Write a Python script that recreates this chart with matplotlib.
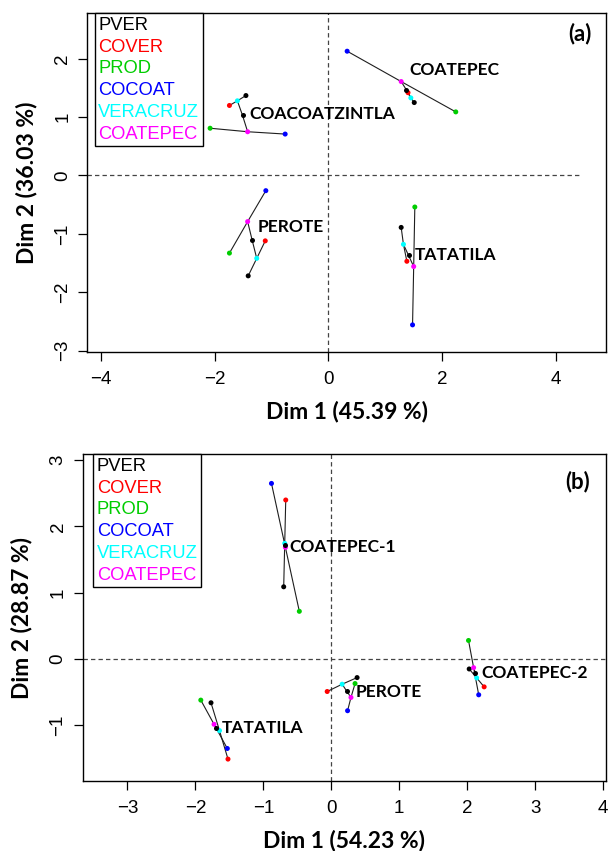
import numpy as np
import matplotlib
matplotlib.use("Agg")
import matplotlib.pyplot as plt
from matplotlib.lines import Line2D

# Grupos (puntos parciales) y sus colores
groups = ["PVER", "COVER", "PROD", "COCOAT", "VERACRUZ", "COATEPEC"]
group_colors = ["#000000", "#FF0000", "#00CD00", "#0000FF", "#00FFFF", "#FF00FF"]
# jerarquia: PVER, COVER -> VERACRUZ ; PROD, COCOAT -> COATEPEC ; VERACRUZ, COATEPEC -> centroide
parent = [4, 4, 5, 5, -1, -1]

# Panel (a)
a_sites = ["COACOATZINTLA", "COATEPEC", "PEROTE", "TATATILA"]
a_mean_x = [-1.51, 1.37, -1.34, 1.41]
a_mean_y = [1.03, 1.47, -1.11, -1.37]
a_part_x = [
    [-1.45, -1.74, -2.08, -0.76, -1.60, -1.42],
    [1.51, 1.40, 2.24, 0.33, 1.45, 1.28],
    [-1.41, -1.11, -1.74, -1.10, -1.26, -1.42],
    [1.28, 1.38, 1.52, 1.48, 1.32, 1.50],
]
a_part_y = [
    [1.37, 1.20, 0.81, 0.71, 1.28, 0.75],
    [1.25, 1.42, 1.09, 2.13, 1.33, 1.61],
    [-1.72, -1.12, -1.33, -0.26, -1.42, -0.79],
    [-0.89, -1.47, -0.54, -2.56, -1.18, -1.56],
]
a_lab_x = [-1.39, 1.42, -1.25, 1.52]
a_lab_y = [1.05, 1.81, -0.88, -1.36]
a_xticks = [-4, -2, 0, 2, 4]
a_yticks = [-3, -2, -1, 0, 1, 2]

# Panel (b)
b_sites = ["COATEPEC-1", "COATEPEC-2", "PEROTE", "TATATILA"]
b_mean_x = [-0.68, 2.12, 0.225, -1.69]
b_mean_y = [1.715, -0.21, -0.48, -1.035]
b_part_x = [
    [-0.70, -0.67, -0.47, -0.88, -0.685, -0.675],
    [2.03, 2.25, 2.02, 2.17, 2.14, 2.095],
    [0.38, -0.06, 0.35, 0.24, 0.16, 0.29],
    [-1.77, -1.52, -1.92, -1.53, -1.645, -1.725],
]
b_part_y = [
    [1.09, 2.40, 0.72, 2.65, 1.745, 1.685],
    [-0.15, -0.42, 0.28, -0.54, -0.285, -0.13],
    [-0.28, -0.49, -0.37, -0.78, -0.38, -0.58],
    [-0.66, -1.51, -0.62, -1.35, -1.08, -0.985],
]
b_lab_x = [-0.62, 2.205, 0.365, -1.61]
b_lab_y = [1.69, -0.215, -0.49, -1.035]
b_xticks = [-3, -2, -1, 0, 1, 2, 3, 4]
b_yticks = [-1, 0, 1, 2, 3]

DASH = (0, (3.5, 2.5))
BOLD = dict(family="Lato", weight="bold")


def panel(ax, sites, mx, my, px, py, lx, ly, xlim, ylim, xticks, yticks,
          xlabel, ylabel, tag, tag_xy, hline_end, leg_x):
    ax.set_xlim(*xlim)
    ax.set_ylim(*ylim)
    ax.axvline(0, color="#444444", lw=0.9, ls=DASH, zorder=1)
    ax.hlines(0, xlim[0], hline_end, color="#444444", lw=0.9, ls=DASH, zorder=1)

    for i in range(len(sites)):
        for k in range(len(groups)):
            if parent[k] < 0:
                x0, y0 = mx[i], my[i]
            else:
                x0, y0 = px[i][parent[k]], py[i][parent[k]]
            ax.plot([x0, px[i][k]], [y0, py[i][k]], color="#1e1e1e", lw=0.8, zorder=2)
        ax.scatter(px[i], py[i], c=group_colors, s=13, linewidths=0, zorder=3)
        ax.text(lx[i], ly[i], sites[i], fontsize=12.5, ha="left", va="center", **BOLD)
    ax.scatter(mx, my, c="black", s=13, linewidths=0, zorder=4)

    ax.text(tag_xy[0], tag_xy[1], tag, fontsize=16, ha="center", va="center", **BOLD)

    ax.set_xticks(xticks)
    ax.set_yticks(yticks)
    ax.tick_params(direction="out", length=6.5, width=0.9, labelsize=13.5)
    ax.tick_params(axis="x", pad=7.5)
    ax.tick_params(axis="y", pad=5, labelrotation=90)
    for lab in ax.get_xticklabels() + ax.get_yticklabels():
        lab.set_family("Liberation Sans")
    for lab in ax.get_yticklabels():
        lab.set_va("center")
    for s in ax.spines.values():
        s.set_linewidth(1.0)

    ax.set_xlabel(xlabel, fontsize=16.5, labelpad=9, **BOLD)
    ax.set_ylabel(ylabel, fontsize=16.5, labelpad=12.5, **BOLD)

    handles = [Line2D([], [], linestyle="none") for g in groups]
    leg = ax.legend(handles, groups, labelcolor=group_colors, loc="upper left",
                    bbox_to_anchor=(leg_x, 1.0), borderaxespad=0,
                    handlelength=0, handletextpad=0, labelspacing=0.26,
                    borderpad=0.2, fancybox=False, edgecolor="black",
                    framealpha=1, prop={"family": "Liberation Sans", "size": 13.2})
    leg.get_frame().set_linewidth(1.0)


fig = plt.figure(figsize=(6.09, 8.51), dpi=100)

ax1 = fig.add_axes([0.1433, 0.5867, 0.8516, 0.3977])
panel(ax1, a_sites, a_mean_x, a_mean_y, a_part_x, a_part_y, a_lab_x, a_lab_y,
      (-4.24, 4.88), (-3.02, 2.78), a_xticks, a_yticks,
      "Dim 1 (45.39 %)", "Dim 2 (36.03 %)", "(a)", (4.43, 2.44), 4.43, 0.014)

ax2 = fig.add_axes([0.1356, 0.0823, 0.8591, 0.3839])
panel(ax2, b_sites, b_mean_x, b_mean_y, b_part_x, b_part_y, b_lab_x, b_lab_y,
      (-3.66, 4.04), (-1.84, 3.09), b_xticks, b_yticks,
      "Dim 1 (54.23 %)", "Dim 2 (28.87 %)", "(b)", (3.63, 2.68), 4.04, 0.020)

fig.savefig("out.png", dpi=100)
